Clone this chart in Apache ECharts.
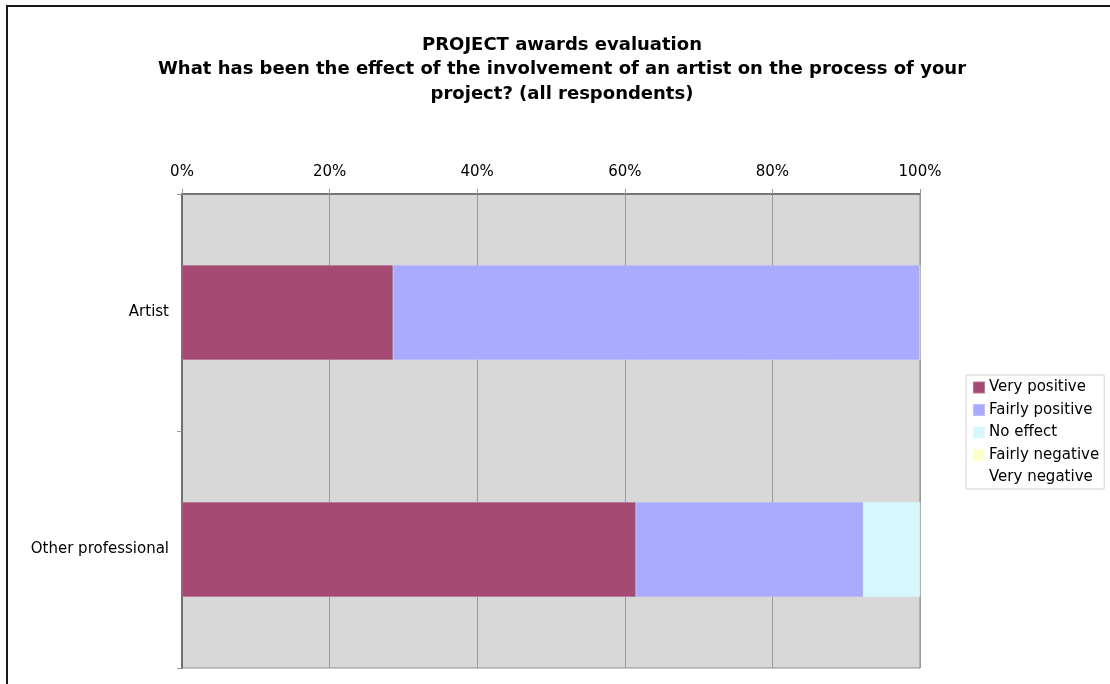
<!DOCTYPE html>
<html>
<head>
<meta charset="utf-8">
<script src="https://cdn.jsdelivr.net/npm/echarts@6/dist/echarts.min.js"></script>
<style>
html,body{margin:0;padding:0;background:#fff;}
#chart{width:1110px;height:684px;}
</style>
</head>
<body>
<div id="chart"></div>
<script>
const categories = ['Artist', 'Other professional'];
const seriesNames = ['Very positive', 'Fairly positive', 'No effect', 'Fairly negative', 'Very negative'];
const veryPositive = [28.6, 61.5];
const fairlyPositive = [71.4, 30.8];
const noEffect = [0, 7.7];
const fairlyNegative = [0, 0];
const veryNegative = [0, 0];
const xTicks = [0, 20, 40, 60, 80, 100];

const colors = ['#a54a73', '#aaaaff', '#d6f8fc', '#ffffcc', '#ffffff'];
const values = [veryPositive, fairlyPositive, noEffect, fairlyNegative, veryNegative];
const FONT = 'DejaVu Sans';

const chart = echarts.init(document.getElementById('chart'), null, {renderer: 'canvas'});
chart.setOption({
  animation: false,
  backgroundColor: '#ffffff',
  textStyle: {fontFamily: FONT},
  graphic: [{
    type: 'rect', silent: true, z: 100,
    shape: {x: 7, y: 6, width: 1300, height: 900},
    style: {fill: 'none', stroke: '#1a1a1a', lineWidth: 2}
  }],
  title: {
    text: 'PROJECT awards evaluation\nWhat has been the effect of the involvement of an artist on the process of your\nproject? (all respondents)',
    left: 557, top: 28, textAlign: 'center',
    textStyle: {fontFamily: FONT, fontSize: 18, fontWeight: 'bold', color: '#000', lineHeight: 24.5}
  },
  legend: {
    orient: 'vertical', left: 966, top: 375,
    data: seriesNames,
    itemWidth: 12, itemHeight: 12, itemGap: 7.5,
    icon: 'rect',
    padding: [5, 5, 4, 6],
    borderColor: '#d0d0d0', borderWidth: 1,
    textStyle: {fontFamily: FONT, fontSize: 15, color: '#000', padding: [0, 0, 0, -1]}
  },
  grid: {
    left: 182, right: 190, top: 194, bottom: 16,
    show: true, backgroundColor: '#d8d8d8', borderColor: '#8c8c8c', borderWidth: 1
  },
  xAxis: {
    type: 'value', position: 'top', min: 0, max: 100, interval: 20,
    axisLine: {show: true, lineStyle: {color: '#777', width: 2}},
    axisTick: {show: true, length: 5, lineStyle: {color: '#999'}},
    splitLine: {show: true, lineStyle: {color: '#999', width: 1}},
    axisLabel: {
      margin: 14, fontFamily: FONT, fontSize: 15, color: '#000',
      formatter: function (v) { return xTicks.indexOf(v) >= 0 ? v + '%' : ''; }
    }
  },
  yAxis: {
    type: 'category', data: categories, inverse: true,
    axisLine: {show: true, lineStyle: {color: '#6f6f6f', width: 2}},
    axisTick: {show: true, length: 5, lineStyle: {color: '#999'}},
    axisLabel: {margin: 13, fontFamily: FONT, fontSize: 15, color: '#000'},
    splitLine: {show: false}
  },
  series: seriesNames.map(function (name, i) {
    return {
      name: name, type: 'bar', stack: 'total',
      data: values[i],
      barCategoryGap: '60%',
      itemStyle: {color: colors[i], borderColor: 'rgba(255,255,255,0.25)', borderWidth: 0.5}
    };
  })
});
</script>
</body>
</html>
